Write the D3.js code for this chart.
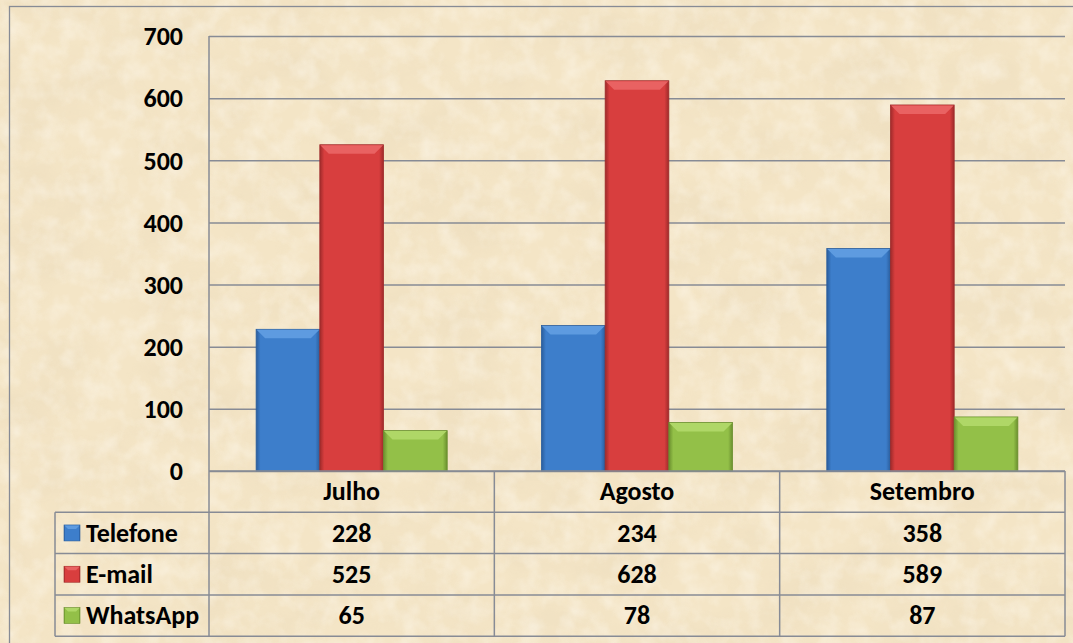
<!DOCTYPE html>
<html>
<head>
<meta charset="utf-8">
<script src="https://cdn.jsdelivr.net/npm/d3@7"></script>
<style>
  html, body { margin: 0; padding: 0; background: #f3e3c3; }
  svg text { font-family: Carlito, Calibri, Lato, sans-serif; font-weight: bold; fill: #000; }
</style>
</head>
<body>
<svg id="chart"></svg>
<script>
// data
const months = ["Julho", "Agosto", "Setembro"];
const seriesNames = ["Telefone", "E-mail", "WhatsApp"];
const telefone = [228, 234, 358];
const email = [525, 628, 589];
const whatsapp = [65, 78, 87];
const yTicks = [0, 100, 200, 300, 400, 500, 600, 700];

const seriesValues = [telefone, email, whatsapp];
const seriesColors = [
  { base: "#3d7ecb", light: "#5e9be0", dark: "#2a5d9c" },
  { base: "#d83e3e", light: "#e96262", dark: "#9e2a2a" },
  { base: "#93c048", light: "#afd767", dark: "#6a8f2e" }
];

const width = 1073;
const height = 643;
const plot = { left: 209, right: 1065, top: 36, bottom: 471 };
const table = { left: 55, rowH: 41.3 };
const gridColor = "#878b95";
const fontSize = 26;

const svg = d3.select("svg#chart").attr("width", width).attr("height", height);
const defs = svg.append("defs");

// parchment texture
const f = defs.append("filter").attr("id", "paper").attr("x", 0).attr("y", 0).attr("width", "100%").attr("height", "100%");
f.append("feTurbulence").attr("type", "fractalNoise").attr("baseFrequency", "0.012 0.018").attr("numOctaves", 5).attr("seed", 7).attr("result", "n");
f.append("feColorMatrix").attr("in", "n").attr("type", "matrix")
  .attr("values", "0 0 0 0 0.80  0 0 0 0 0.68  0 0 0 0 0.48  1.6 0 0 0 -0.62");
const f2 = defs.append("filter").attr("id", "paper2").attr("x", 0).attr("y", 0).attr("width", "100%").attr("height", "100%");
f2.append("feTurbulence").attr("type", "fractalNoise").attr("baseFrequency", "0.05").attr("numOctaves", 3).attr("seed", 3).attr("result", "n");
f2.append("feColorMatrix").attr("in", "n").attr("type", "matrix")
  .attr("values", "0 0 0 0 1  0 0 0 0 0.97  0 0 0 0 0.90  1.4 0 0 0 -0.55");

svg.append("rect").attr("width", width).attr("height", height).attr("fill", "#f4e5c6");
svg.append("rect").attr("width", width).attr("height", height).attr("filter", "url(#paper)").attr("opacity", 0.5);
svg.append("rect").attr("width", width).attr("height", height).attr("filter", "url(#paper2)").attr("opacity", 0.6);

// outer chart border (runs off the picture on the right and bottom)
svg.append("rect").attr("x", 9.5).attr("y", 6.5).attr("width", 1100).attr("height", 700)
  .attr("fill", "none").attr("stroke", gridColor).attr("stroke-width", 1.3);

// gradients for bars
seriesColors.forEach((c, i) => {
  const g = defs.append("linearGradient").attr("id", "bar" + i).attr("x1", 0).attr("x2", 1).attr("y1", 0).attr("y2", 0);
  g.append("stop").attr("offset", "0%").attr("stop-color", c.dark);
  g.append("stop").attr("offset", "7%").attr("stop-color", c.base);
  g.append("stop").attr("offset", "93%").attr("stop-color", c.base);
  g.append("stop").attr("offset", "100%").attr("stop-color", c.dark);
});

// scales
const y = d3.scaleLinear().domain([0, 700]).range([plot.bottom, plot.top]);
const x0 = d3.scaleBand().domain(months).range([plot.left, plot.right]);
const x1 = d3.scaleBand().domain(seriesNames).range([0, x0.bandwidth()]).paddingInner(0).paddingOuter(0.74);

// gridlines + y labels
const yAxis = d3.axisLeft(y).tickValues(yTicks).tickSize(-(plot.right - plot.left)).tickPadding(26);
const gy = svg.append("g").attr("transform", "translate(" + plot.left + ",0)").call(yAxis);
gy.select(".domain").remove();
gy.selectAll(".tick line").attr("stroke", gridColor).attr("stroke-width", 1.5);
gy.selectAll(".tick text").attr("font-size", fontSize).attr("fill", "#000").attr("dy", "0.34em")
  .style("font-family", "Carlito, Calibri, Lato, sans-serif").style("font-weight", "bold");

// left axis line
svg.append("line").attr("x1", plot.left).attr("x2", plot.left).attr("y1", plot.top).attr("y2", plot.bottom)
  .attr("stroke", gridColor).attr("stroke-width", 1.5);

// bars
const bevel = 9;
const barData = [];
months.forEach((m, mi) => {
  seriesNames.forEach((s, si) => {
    barData.push({ month: m, series: s, si: si, value: seriesValues[si][mi] });
  });
});

const bars = svg.append("g").selectAll("g").data(barData).enter().append("g")
  .attr("transform", d => "translate(" + (x0(d.month) + x1(d.series)) + "," + y(d.value) + ")");
bars.append("rect")
  .attr("width", x1.bandwidth())
  .attr("height", d => plot.bottom - y(d.value))
  .attr("fill", d => "url(#bar" + d.si + ")")
  .attr("stroke", d => seriesColors[d.si].dark).attr("stroke-width", 0.8);
bars.append("polygon")
  .attr("points", d => {
    const w = x1.bandwidth();
    return [[0.5, 0.5], [w - 0.5, 0.5], [w - bevel, bevel], [bevel, bevel]].map(p => p.join(",")).join(" ");
  })
  .attr("fill", d => seriesColors[d.si].light);

// data table
const tableBottom = plot.bottom + table.rowH * 4;
const tg = svg.append("g");
// horizontal lines
for (let r = 1; r <= 4; r++) {
  const yy = plot.bottom + table.rowH * r;
  tg.append("line").attr("x1", table.left).attr("x2", plot.right).attr("y1", yy).attr("y2", yy)
    .attr("stroke", gridColor).attr("stroke-width", 1.5);
}
tg.append("line").attr("x1", plot.left).attr("x2", plot.right).attr("y1", plot.bottom).attr("y2", plot.bottom)
  .attr("stroke", gridColor).attr("stroke-width", 1.5);
// vertical lines
const colEdges = months.map(m => x0(m)).concat([plot.right]);
colEdges.forEach(cx => {
  tg.append("line").attr("x1", cx).attr("x2", cx).attr("y1", plot.bottom).attr("y2", tableBottom)
    .attr("stroke", gridColor).attr("stroke-width", 1.5);
});
tg.append("line").attr("x1", table.left).attr("x2", table.left).attr("y1", plot.bottom + table.rowH).attr("y2", tableBottom)
  .attr("stroke", gridColor).attr("stroke-width", 1.5);

// header
tg.selectAll("text.month").data(months).enter().append("text").attr("class", "month")
  .attr("x", d => x0(d) + x0.bandwidth() / 2)
  .attr("y", plot.bottom + table.rowH / 2)
  .attr("dy", "0.34em").attr("text-anchor", "middle").attr("font-size", fontSize)
  .text(d => d);

// rows
seriesNames.forEach((s, si) => {
  const cy = plot.bottom + table.rowH * (si + 1.5);
  const key = tg.append("g").attr("transform", "translate(64," + (cy - 8) + ")");
  key.append("rect").attr("width", 16).attr("height", 16).attr("fill", "url(#bar" + si + ")")
    .attr("stroke", seriesColors[si].dark).attr("stroke-width", 0.6);
  key.append("polygon").attr("points", "0.5,0.5 15.5,0.5 12,4 4,4").attr("fill", seriesColors[si].light);
  tg.append("text").attr("x", 86).attr("y", cy).attr("dy", "0.34em").attr("font-size", fontSize).text(s);
  tg.selectAll("text.v" + si).data(seriesValues[si]).enter().append("text").attr("class", "v" + si)
    .attr("x", (d, i) => x0(months[i]) + x0.bandwidth() / 2)
    .attr("y", cy).attr("dy", "0.34em").attr("text-anchor", "middle").attr("font-size", fontSize)
    .text(d => d);
});
</script>
</body>
</html>
